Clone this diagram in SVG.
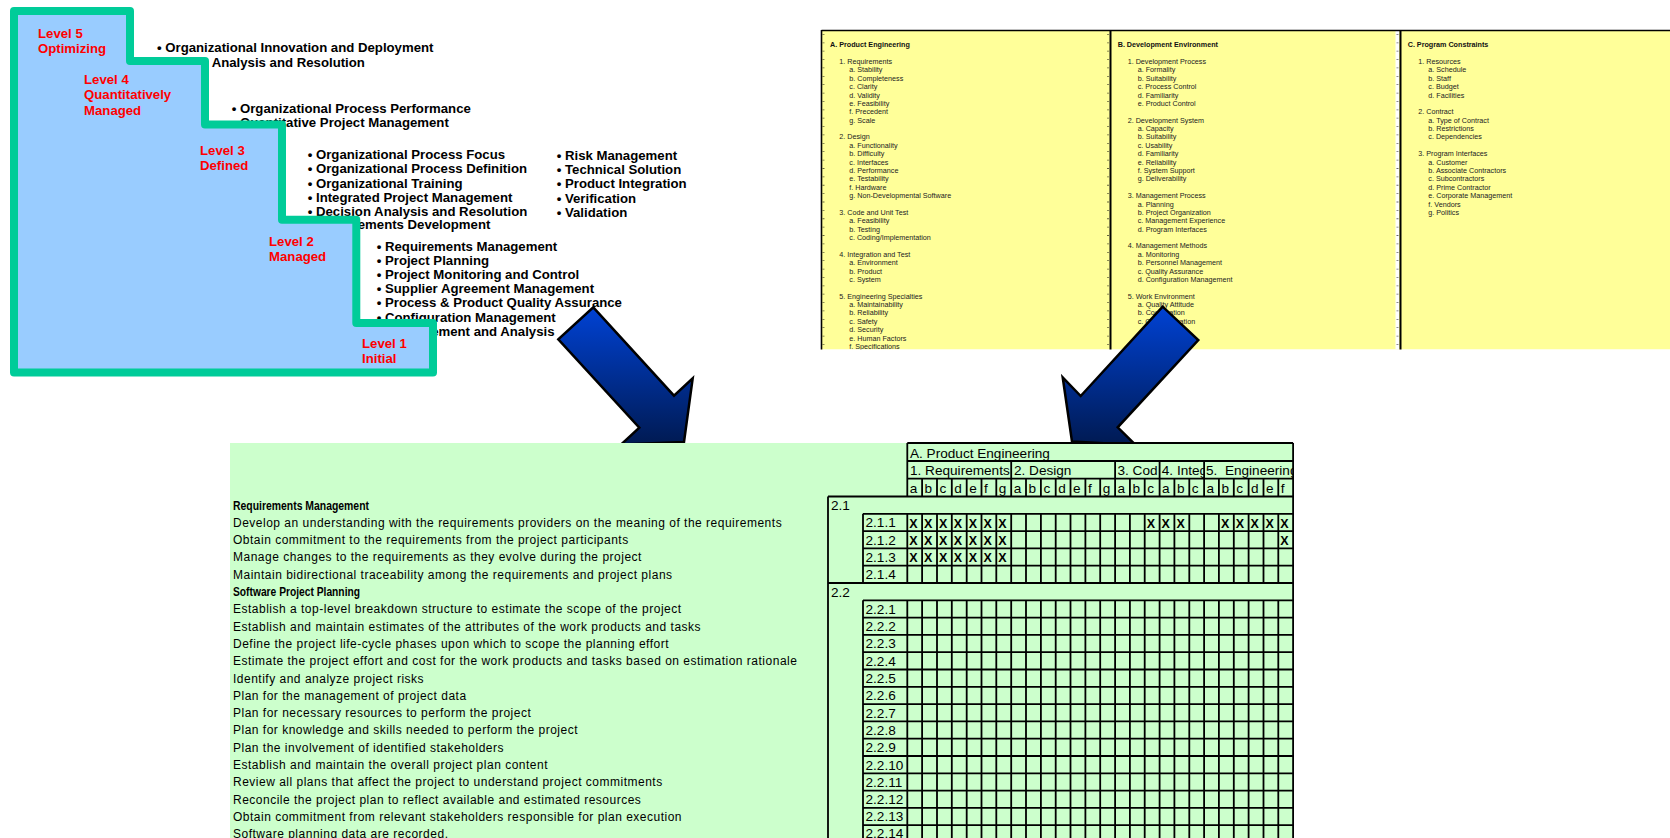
<svg xmlns="http://www.w3.org/2000/svg" width="1670" height="838" viewBox="0 0 1670 838">
<style>
text{font-family:'Liberation Sans',Arial,sans-serif}
.li{font-weight:bold;font-size:13.2px;fill:#000}
.lv{font-weight:bold;font-size:13.2px;fill:#f00}
.pt{font-size:7.2px;fill:#222}
.ph{font-size:7.2px;font-weight:bold;fill:#111}
.tt{font-size:13.6px;fill:#000}
.lt{font-size:12px;letter-spacing:0.5px;fill:#000}
.lb{font-size:12.3px;font-weight:bold;fill:#000}
.xm{font-size:12.5px;font-weight:bold;fill:#000}
.grid{fill:none;stroke:#000;stroke-width:1.8}
.arrow{fill:url(#ag);stroke:#000;stroke-width:2.5;stroke-linejoin:miter}
</style>
<defs>
<linearGradient id="ag" x1="0" y1="0" x2="0" y2="1">
<stop offset="0" stop-color="#0042D4"/>
<stop offset="1" stop-color="#001A52"/>
</linearGradient>
<clipPath id="pclip"><rect x="820" y="29" width="850" height="320.5"/></clipPath>
<clipPath id="h1"><rect x="907.3" y="461" width="103.9" height="17.6"/></clipPath>
<clipPath id="h2"><rect x="1011.2" y="461" width="103.9" height="17.6"/></clipPath>
<clipPath id="h3"><rect x="1115.1" y="461" width="44.5" height="17.6"/></clipPath>
<clipPath id="h4"><rect x="1159.6" y="461" width="44.5" height="17.6"/></clipPath>
<clipPath id="h5"><rect x="1204.1" y="461" width="89" height="17.6"/></clipPath>
</defs>
<rect width="1670" height="838" fill="#fff"/>

<g id="maturity-staircase">
<g id="process-areas">
<text class="li" x="157" y="51.7">• Organizational Innovation and Deployment</text>
<text class="li" x="157" y="66.7">• Causal Analysis and Resolution</text>
<text class="li" x="231.7" y="112.7">• Organizational Process Performance</text>
<text class="li" x="231.7" y="126.7">• Quantitative Project Management</text>
<text class="li" x="307.7" y="159">• Organizational Process Focus</text>
<text class="li" x="307.7" y="172.7">• Organizational Process Definition</text>
<text class="li" x="307.7" y="187.7">• Organizational Training</text>
<text class="li" x="307.7" y="201.7">• Integrated Project Management</text>
<text class="li" x="307.7" y="215.7">• Decision Analysis and Resolution</text>
<text class="li" x="307.7" y="229.3">• Requirements Development</text>
<text class="li" x="556.7" y="160">• Risk Management</text>
<text class="li" x="556.7" y="174">• Technical Solution</text>
<text class="li" x="556.7" y="188.3">• Product Integration</text>
<text class="li" x="556.7" y="203.3">• Verification</text>
<text class="li" x="556.7" y="217.3">• Validation</text>
<text class="li" x="376.7" y="250.7">• Requirements Management</text>
<text class="li" x="376.7" y="264.7">• Project Planning</text>
<text class="li" x="376.7" y="278.7">• Project Monitoring and Control</text>
<text class="li" x="376.7" y="292.7">• Supplier Agreement Management</text>
<text class="li" x="376.7" y="307.3">• Process &amp; Product Quality Assurance</text>
<text class="li" x="376.7" y="321.7">• Configuration Management</text>
<text class="li" x="376.7" y="335.7">• Measurement and Analysis</text>
</g>
<path d="M14 11H130V61H205V124.5H282V219.7H356.3V323H433V372.5H14Z" fill="#99CCFF" stroke="#00CC99" stroke-width="8" stroke-linejoin="round"/>
<g id="level-5"><text class="lv" x="38" y="38">Level 5</text><text class="lv" x="38" y="53">Optimizing</text></g>
<g id="level-4"><text class="lv" x="84" y="84">Level 4</text><text class="lv" x="84" y="99">Quantitatively</text><text class="lv" x="84" y="115">Managed</text></g>
<g id="level-3"><text class="lv" x="200" y="155">Level 3</text><text class="lv" x="200" y="170">Defined</text></g>
<g id="level-2"><text class="lv" x="269" y="246">Level 2</text><text class="lv" x="269" y="261">Managed</text></g>
<g id="level-1"><text class="lv" x="362" y="348">Level 1</text><text class="lv" x="362" y="363">Initial</text></g>
</g>

<g id="risk-taxonomy" clip-path="url(#pclip)">
<rect x="821" y="30" width="849" height="319.5" fill="#FFFF99"/>
<rect x="1395.5" y="30" width="3.5" height="319.5" fill="#fff"/>
<path d="M821.5 30.5H1670M821.5 30V350" stroke="#000" stroke-width="1.6" fill="none"/>
<path d="M1110.5 30V350M1400.5 30V350" stroke="#000" stroke-width="2" fill="none"/>
<path d="M823.5 34V350M1108 34V350M1397.5 34V350" stroke="#000" stroke-width="2" stroke-dasharray="0.8 7.58" fill="none" opacity="0.6"/>
<g id="panel-a">
<text class="ph" x="830" y="46.7">A. Product Engineering</text>
<text class="pt">
<tspan x="839.3" y="64">1. Requirements</tspan>
<tspan x="849.3" y="72.4">a. Stability</tspan>
<tspan x="849.3" y="80.8">b. Completeness</tspan>
<tspan x="849.3" y="89.1">c. Clarity</tspan>
<tspan x="849.3" y="97.5">d. Validity</tspan>
<tspan x="849.3" y="105.9">e. Feasibility</tspan>
<tspan x="849.3" y="114.3">f. Precedent</tspan>
<tspan x="849.3" y="122.7">g. Scale</tspan>
<tspan x="839.3" y="139.4">2. Design</tspan>
<tspan x="849.3" y="147.8">a. Functionality</tspan>
<tspan x="849.3" y="156.2">b. Difficulty</tspan>
<tspan x="849.3" y="164.6">c. Interfaces</tspan>
<tspan x="849.3" y="172.9">d. Performance</tspan>
<tspan x="849.3" y="181.3">e. Testability</tspan>
<tspan x="849.3" y="189.7">f. Hardware</tspan>
<tspan x="849.3" y="198.1">g. Non-Developmental Software</tspan>
<tspan x="839.3" y="214.8">3. Code and Unit Test</tspan>
<tspan x="849.3" y="223.2">a. Feasibility</tspan>
<tspan x="849.3" y="231.6">b. Testing</tspan>
<tspan x="849.3" y="240">c. Coding/Implementation</tspan>
<tspan x="839.3" y="256.7">4. Integration and Test</tspan>
<tspan x="849.3" y="265.1">a. Environment</tspan>
<tspan x="849.3" y="273.5">b. Product</tspan>
<tspan x="849.3" y="281.9">c. System</tspan>
<tspan x="839.3" y="298.6">5. Engineering Specialties</tspan>
<tspan x="849.3" y="307">a. Maintainability</tspan>
<tspan x="849.3" y="315.4">b. Reliability</tspan>
<tspan x="849.3" y="323.8">c. Safety</tspan>
<tspan x="849.3" y="332.2">d. Security</tspan>
<tspan x="849.3" y="340.5">e. Human Factors</tspan>
<tspan x="849.3" y="348.9">f. Specifications</tspan>
</text>
</g>
<g id="panel-b">
<text class="ph" x="1117.7" y="46.7">B. Development Environment</text>
<text class="pt">
<tspan x="1127.7" y="64">1. Development Process</tspan>
<tspan x="1137.7" y="72.4">a. Formality</tspan>
<tspan x="1137.7" y="80.8">b. Suitability</tspan>
<tspan x="1137.7" y="89.1">c. Process Control</tspan>
<tspan x="1137.7" y="97.5">d. Familiarity</tspan>
<tspan x="1137.7" y="105.9">e. Product Control</tspan>
<tspan x="1127.7" y="122.7">2. Development System</tspan>
<tspan x="1137.7" y="131">a. Capacity</tspan>
<tspan x="1137.7" y="139.4">b. Suitability</tspan>
<tspan x="1137.7" y="147.8">c. Usability</tspan>
<tspan x="1137.7" y="156.2">d. Familiarity</tspan>
<tspan x="1137.7" y="164.6">e. Reliability</tspan>
<tspan x="1137.7" y="172.9">f. System Support</tspan>
<tspan x="1137.7" y="181.3">g. Deliverability</tspan>
<tspan x="1127.7" y="198.1">3. Management Process</tspan>
<tspan x="1137.7" y="206.5">a. Planning</tspan>
<tspan x="1137.7" y="214.8">b. Project Organization</tspan>
<tspan x="1137.7" y="223.2">c. Management Experience</tspan>
<tspan x="1137.7" y="231.6">d. Program Interfaces</tspan>
<tspan x="1127.7" y="248.4">4. Management Methods</tspan>
<tspan x="1137.7" y="256.7">a. Monitoring</tspan>
<tspan x="1137.7" y="265.1">b. Personnel Management</tspan>
<tspan x="1137.7" y="273.5">c. Quality Assurance</tspan>
<tspan x="1137.7" y="281.9">d. Configuration Management</tspan>
<tspan x="1127.7" y="298.6">5. Work Environment</tspan>
<tspan x="1137.7" y="307">a. Quality Attitude</tspan>
<tspan x="1137.7" y="315.4">b. Cooperation</tspan>
<tspan x="1137.7" y="323.8">c. Communication</tspan>
</text>
</g>
<g id="panel-c">
<text class="ph" x="1407.7" y="46.7">C. Program Constraints</text>
<text class="pt">
<tspan x="1418.3" y="64">1. Resources</tspan>
<tspan x="1428.3" y="72.4">a. Schedule</tspan>
<tspan x="1428.3" y="80.8">b. Staff</tspan>
<tspan x="1428.3" y="89.1">c. Budget</tspan>
<tspan x="1428.3" y="97.5">d. Facilities</tspan>
<tspan x="1418.3" y="114.3">2. Contract</tspan>
<tspan x="1428.3" y="122.7">a. Type of Contract</tspan>
<tspan x="1428.3" y="131">b. Restrictions</tspan>
<tspan x="1428.3" y="139.4">c. Dependencies</tspan>
<tspan x="1418.3" y="156.2">3. Program Interfaces</tspan>
<tspan x="1428.3" y="164.6">a. Customer</tspan>
<tspan x="1428.3" y="172.9">b. Associate Contractors</tspan>
<tspan x="1428.3" y="181.3">c. Subcontractors</tspan>
<tspan x="1428.3" y="189.7">d. Prime Contractor</tspan>
<tspan x="1428.3" y="198.1">e. Corporate Management</tspan>
<tspan x="1428.3" y="206.5">f. Vendors</tspan>
<tspan x="1428.3" y="214.8">g. Politics</tspan>
</text>
</g>
</g>

<g id="connectors">
<path id="arrow-left" class="arrow" d="M593.3 307.3L674 395.7L692.7 378.3L684 442L621 444.5L639.3 427.7L558.3 339.3Z"/>
<path id="arrow-right" class="arrow" d="M1162.7 306.7L1080.7 396L1062.7 377.3L1072 441.5L1135.7 445L1117.7 427.3L1198.3 340Z"/>
</g>

<g id="traceability-table">
<rect x="230" y="443" width="1064" height="400" fill="#CCFFCC"/>
<g id="practices">
<text class="lb" x="233" y="509.5" textLength="136" lengthAdjust="spacingAndGlyphs">Requirements Management</text>
<text class="lt" x="233" y="526.8">Develop an understanding with the requirements providers on the meaning of the requirements</text>
<text class="lt" x="233" y="544.1">Obtain commitment to the requirements from the project participants</text>
<text class="lt" x="233" y="561.4">Manage changes to the requirements as they evolve during the project</text>
<text class="lt" x="233" y="578.7">Maintain bidirectional traceability among the requirements and project plans</text>
<text class="lb" x="233" y="596" textLength="127" lengthAdjust="spacingAndGlyphs">Software Project Planning</text>
<text class="lt" x="233" y="613.3">Establish a top-level breakdown structure to estimate the scope of the project</text>
<text class="lt" x="233" y="630.6">Establish and maintain estimates of the attributes of the work products and tasks</text>
<text class="lt" x="233" y="647.9">Define the project life-cycle phases upon which to scope the planning effort</text>
<text class="lt" x="233" y="665.2">Estimate the project effort and cost for the work products and tasks based on estimation rationale</text>
<text class="lt" x="233" y="682.5">Identify and analyze project risks</text>
<text class="lt" x="233" y="699.8">Plan for the management of project data</text>
<text class="lt" x="233" y="717.1">Plan for necessary resources to perform the project</text>
<text class="lt" x="233" y="734.4">Plan for knowledge and skills needed to perform the project</text>
<text class="lt" x="233" y="751.7">Plan the involvement of identified stakeholders</text>
<text class="lt" x="233" y="769">Establish and maintain the overall project plan content</text>
<text class="lt" x="233" y="786.3">Review all plans that affect the project to understand project commitments</text>
<text class="lt" x="233" y="803.6">Reconcile the project plan to reflect available and estimated resources</text>
<text class="lt" x="233" y="820.9">Obtain commitment from relevant stakeholders responsible for plan execution</text>
<text class="lt" x="233" y="837.6">Software planning data are recorded.</text>
</g>
<g id="grid">
<path class="grid" d="M907.3 443H1293.1M907.3 461H1293.1M907.3 478.6H1293.1M828 496.5H1293.1M863 513.8H1293.1M863 531.1H1293.1M863 548.4H1293.1M863 565.7H1293.1M828 583H1293.1M863 600.3H1293.1M863 617.6H1293.1M863 634.9H1293.1M863 652.2H1293.1M863 669.5H1293.1M863 686.8H1293.1M863 704.1H1293.1M863 721.4H1293.1M863 738.7H1293.1M863 756H1293.1M863 773.3H1293.1M863 790.6H1293.1M863 807.9H1293.1M863 825.2H1293.1"/>
<path class="grid" d="M828 496.5V845M863 513.8V583M863 600.3V845M1293.1 443V845M907.3 443V496.5M907.3 513.8V583M907.3 600.3V845
M922.1 478.6V496.5M922.1 513.8V583M922.1 600.3V845
M937 478.6V496.5M937 513.8V583M937 600.3V845
M951.8 478.6V496.5M951.8 513.8V583M951.8 600.3V845
M966.7 478.6V496.5M966.7 513.8V583M966.7 600.3V845
M981.5 478.6V496.5M981.5 513.8V583M981.5 600.3V845
M996.3 478.6V496.5M996.3 513.8V583M996.3 600.3V845
M1011.2 461V496.5M1011.2 513.8V583M1011.2 600.3V845
M1026 478.6V496.5M1026 513.8V583M1026 600.3V845
M1040.9 478.6V496.5M1040.9 513.8V583M1040.9 600.3V845
M1055.7 478.6V496.5M1055.7 513.8V583M1055.7 600.3V845
M1070.5 478.6V496.5M1070.5 513.8V583M1070.5 600.3V845
M1085.4 478.6V496.5M1085.4 513.8V583M1085.4 600.3V845
M1100.2 478.6V496.5M1100.2 513.8V583M1100.2 600.3V845
M1115.1 461V496.5M1115.1 513.8V583M1115.1 600.3V845
M1129.9 478.6V496.5M1129.9 513.8V583M1129.9 600.3V845
M1144.7 478.6V496.5M1144.7 513.8V583M1144.7 600.3V845
M1159.6 461V496.5M1159.6 513.8V583M1159.6 600.3V845
M1174.4 478.6V496.5M1174.4 513.8V583M1174.4 600.3V845
M1189.3 478.6V496.5M1189.3 513.8V583M1189.3 600.3V845
M1204.1 461V496.5M1204.1 513.8V583M1204.1 600.3V845
M1218.9 478.6V496.5M1218.9 513.8V583M1218.9 600.3V845
M1233.8 478.6V496.5M1233.8 513.8V583M1233.8 600.3V845
M1248.6 478.6V496.5M1248.6 513.8V583M1248.6 600.3V845
M1263.5 478.6V496.5M1263.5 513.8V583M1263.5 600.3V845
M1278.3 478.6V496.5M1278.3 513.8V583M1278.3 600.3V845"/>
</g>
<g id="header">
<text class="tt" x="910" y="457.5">A. Product Engineering</text>
<text class="tt" x="910" y="475.3" clip-path="url(#h1)">1. Requirements</text>
<text class="tt" x="1014" y="475.3" clip-path="url(#h2)">2. Design</text>
<text class="tt" x="1117.5" y="475.3" clip-path="url(#h3)">3. Cod</text>
<text class="tt" x="1161.8" y="475.3" clip-path="url(#h4)">4. Integ</text>
<text class="tt" x="1206" y="475.3" clip-path="url(#h5)" xml:space="preserve">5.  Engineering</text>
<text class="tt" x="909.8 924.6 939.5 954.3 969.2 984 998.8 1013.7 1028.5 1043.4 1058.2 1073 1087.9 1102.7 1117.6 1132.4 1147.2 1162.1 1176.9 1191.8 1206.6 1221.4 1236.3 1251.1 1266 1280.8" y="493">abcdefgabcdefgabcabcabcdef</text>
</g>
<g id="row-labels">
<text class="tt" x="831" y="510">2.1</text>
<text class="tt" x="865.5" y="527.3">2.1.1</text>
<text class="tt" x="865.5" y="544.6">2.1.2</text>
<text class="tt" x="865.5" y="561.9">2.1.3</text>
<text class="tt" x="865.5" y="579.2">2.1.4</text>
<text class="tt" x="831" y="596.5">2.2</text>
<text class="tt" x="865.5" y="613.8">2.2.1</text>
<text class="tt" x="865.5" y="631.1">2.2.2</text>
<text class="tt" x="865.5" y="648.4">2.2.3</text>
<text class="tt" x="865.5" y="665.7">2.2.4</text>
<text class="tt" x="865.5" y="683">2.2.5</text>
<text class="tt" x="865.5" y="700.3">2.2.6</text>
<text class="tt" x="865.5" y="717.6">2.2.7</text>
<text class="tt" x="865.5" y="734.9">2.2.8</text>
<text class="tt" x="865.5" y="752.2">2.2.9</text>
<text class="tt" x="865.5" y="769.5">2.2.10</text>
<text class="tt" x="865.5" y="786.8">2.2.11</text>
<text class="tt" x="865.5" y="804.1">2.2.12</text>
<text class="tt" x="865.5" y="821.4">2.2.13</text>
<text class="tt" x="865.5" y="838.2">2.2.14</text>
</g>
<g id="marks">
<text class="xm" x="909.3 924.1 939 953.8 968.7 983.5 998.3 1146.7 1161.6 1176.4 1220.9 1235.8 1250.6 1265.5 1280.3" y="527.5">XXXXXXXXXXXXXXX</text>
<text class="xm" x="909.3 924.1 939 953.8 968.7 983.5 998.3 1280.3" y="544.8">XXXXXXXX</text>
<text class="xm" x="909.3 924.1 939 953.8 968.7 983.5 998.3" y="562.1">XXXXXXX</text>
</g>
</g>
</svg>
